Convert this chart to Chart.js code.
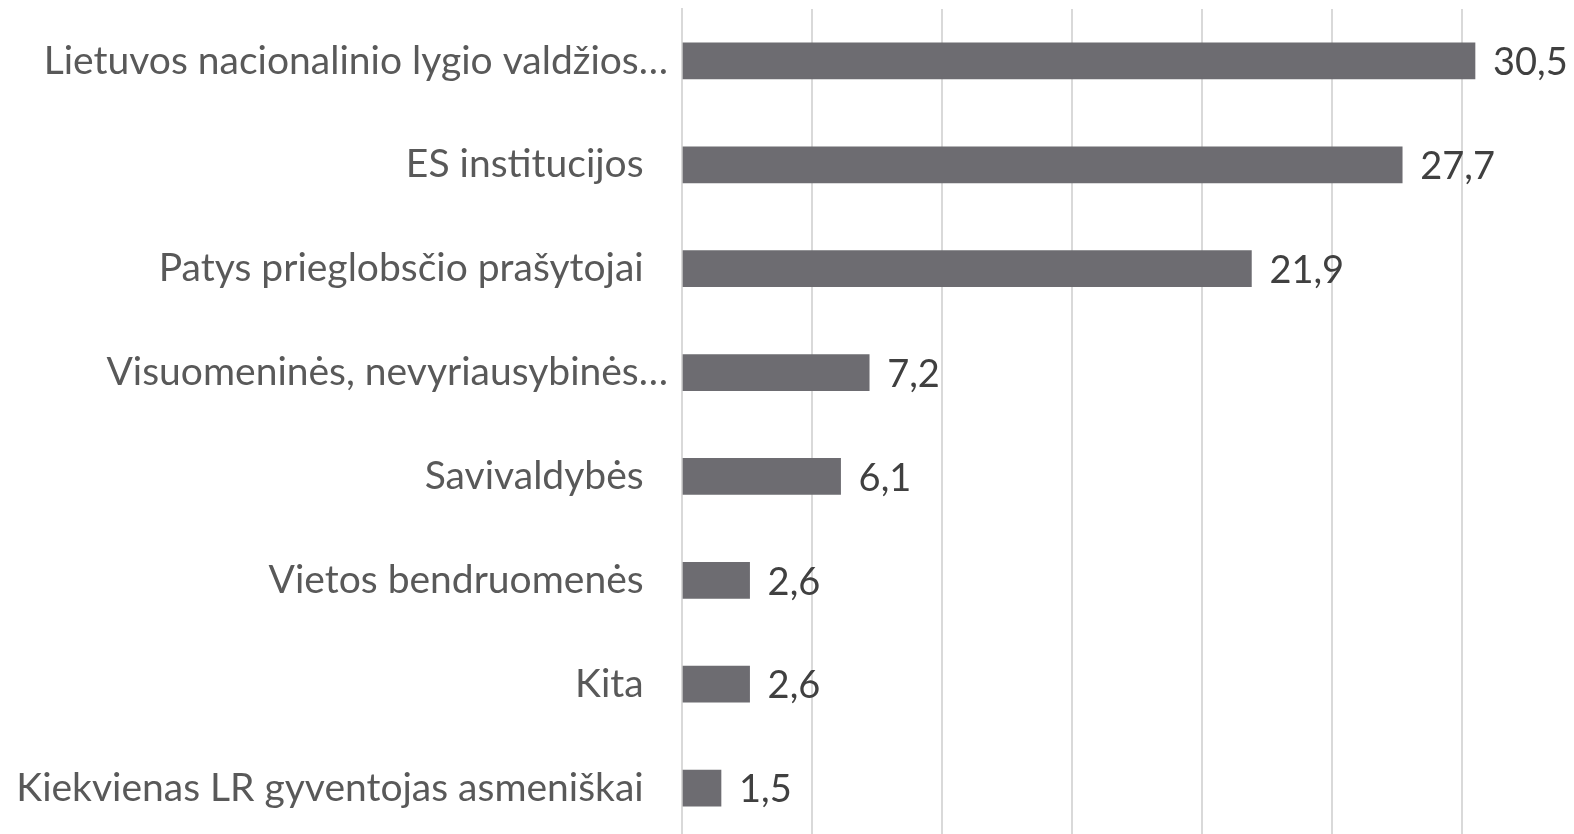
<!DOCTYPE html>
<html>
<head>
<meta charset="utf-8">
<script src="https://cdn.jsdelivr.net/npm/chart.js@4.4.1/dist/chart.umd.min.js"></script>
<style>
  html, body { margin: 0; padding: 0; background: #ffffff; overflow: hidden; }
  #wrap { width: 1574px; height: 834px; overflow: hidden; position: relative; }
  canvas { display: block; }
</style>
</head>
<body>
<div id="wrap"><canvas id="c" width="1574" height="840"></canvas></div>
<script>
const categories = [
  "Lietuvos nacionalinio lygio valdžios…",
  "ES institucijos",
  "Patys prieglobsčio prašytojai",
  "Visuomeninės, nevyriausybinės…",
  "Savivaldybės",
  "Vietos bendruomenės",
  "Kita",
  "Kiekvienas LR gyventojas asmeniškai"
];
const values = [30.5, 27.7, 21.9, 7.2, 6.1, 2.6, 2.6, 1.5];
const gridTicks = [0, 5, 10, 15, 20, 25, 30];

const FONT = "Lato, 'Open Sans', sans-serif";

const valueLabels = {
  id: 'valueLabels',
  afterDatasetsDraw(chart) {
    const ctx = chart.ctx;
    const meta = chart.getDatasetMeta(0);
    ctx.save();
    ctx.font = "38px " + FONT;
    ctx.fillStyle = "#404040";
    ctx.textAlign = "left";
    ctx.textBaseline = "middle";
    meta.data.forEach((bar, i) => {
      const txt = values[i].toFixed(1).replace('.', ',');
      ctx.fillText(txt, bar.x + 18, bar.y + 2);
    });
    ctx.restore();
  }
};

new Chart(document.getElementById('c'), {
  type: 'bar',
  data: {
    labels: categories,
    datasets: [{
      data: values,
      backgroundColor: '#6d6c71',
      borderWidth: 0,
      barThickness: 36
    }]
  },
  options: {
    indexAxis: 'y',
    responsive: false,
    animation: false,
    events: [],
    layout: { padding: { top: 9, right: 0, bottom: 0, left: 0 } },
    plugins: { legend: { display: false }, tooltip: { enabled: false } },
    scales: {
      x: {
        min: 0,
        max: (1574 - 682) / 26,
        afterBuildTicks(scale) {
          scale.ticks = gridTicks.map(v => ({ value: v }));
        },
        afterFit(scale) { scale.height = 0; scale.paddingLeft = 0; scale.paddingRight = 0; },
        ticks: { display: false },
        grid: { color: '#d9d9d9', lineWidth: 2, drawTicks: false },
        border: { display: false }
      },
      y: {
        afterFit(scale) { scale.width = 682; scale.paddingTop = 0; scale.paddingBottom = 0; },
        ticks: {
          color: '#595959',
          font: { family: FONT, size: 39 },
          padding: 14,
          callback(v, i) {
            const s = categories[i];
            return s.endsWith('…') ? s : s + '\u2002\u2009';
          }
        },
        grid: { display: false, drawTicks: false },
        border: { display: true, color: '#d9d9d9', width: 2 }
      }
    }
  },
  plugins: [valueLabels]
});
</script>
</body>
</html>
